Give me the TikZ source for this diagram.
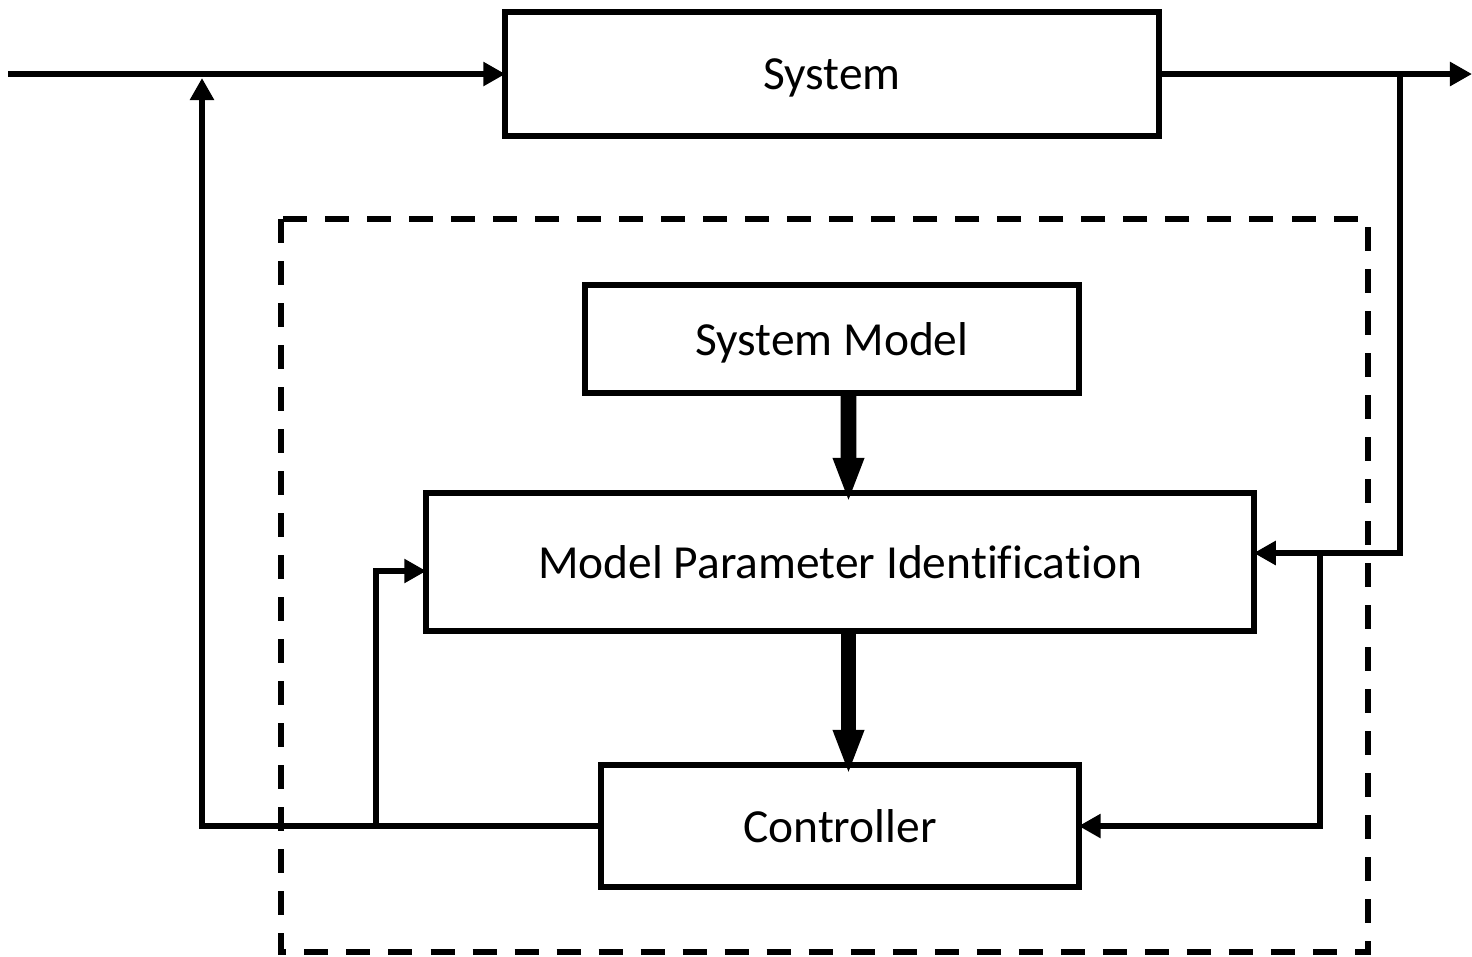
\documentclass[tikz,border=0pt]{standalone}
\usepackage{fontspec}
\setmainfont[Ligatures=NoCommon]{Carlito}
\usetikzlibrary{arrows.meta}

\begin{document}
\begin{tikzpicture}[x=0.01cm, y=-0.01cm,
        block/.style={draw, line width=1.7pt, inner sep=0pt, outer sep=0pt, text depth=0pt,
            font=\fontsize{13.5}{16}\selectfont},
        arr/.style={line width=1.7pt, -{Triangle[length=0.22cm, width=0.23cm]}},
        bigarr/.style={line width=4.5pt, -{Triangle[length=0.45cm, width=0.28cm]}, shorten >=-0.1cm}]
        \useasboundingbox (0,0) rectangle (1472,956);

        \node[block, minimum width=6.53cm, minimum height=1.23cm] (sys) at (832,74) {System};
        \node[block, minimum width=4.93cm, minimum height=1.08cm] (sm) at (832,339) {System Model};
        \node[block, minimum width=8.27cm, minimum height=1.38cm] (mpi) at (840,562) {Model Parameter Identification};
        \node[block, minimum width=4.77cm, minimum height=1.22cm] (ctrl) at (840,826) {Controller};

        % dashed frame round the adaptive part
        \draw[line width=1.7pt, dash pattern=on 0.24cm off 0.18cm] (281,219) rectangle (1368,952);

        \coordinate (in) at (8,74);
        \coordinate (out) at (1472,74);
        \coordinate (tap) at (1400,74);
        \coordinate (tap2) at (1320,553);
        \coordinate (tap3) at (376,826);
        \coordinate (fb) at (202,78);

        \draw[arr] (in) -- (sys.west);
        \draw[arr] (sys.east) -- (out);
        \draw[arr] (tap) |- ([yshift=0.09cm]mpi.east);
        \draw[arr] (tap2) |- (ctrl.east);
        \draw[arr] (ctrl.west) -| (fb);
        \draw[arr] (tap3) |- ([yshift=-0.09cm]mpi.west);

        \draw[bigarr] ([xshift=0.165cm]sm.south) -- ([xshift=0.085cm]mpi.north);
        \draw[bigarr] ([xshift=0.085cm]mpi.south) -- ([xshift=0.085cm]ctrl.north);
    \end{tikzpicture}
\end{document}
